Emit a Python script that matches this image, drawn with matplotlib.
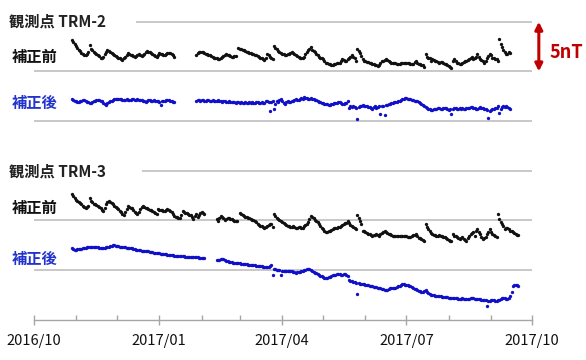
import matplotlib
matplotlib.use("Agg")
import matplotlib.pyplot as plt
import matplotlib.dates as mdates
import numpy as np
import pandas as pd

plt.rcParams['font.family'] = ['Noto Sans CJK JP', 'DejaVu Sans']

# ---------------- data (daily values, nT, with display offsets) ----------------
# Each series: list of segments, each segment starts at the given date.
trm2_before_starts = ["2016-10-29", "2017-01-28"]
trm2_before_seg1 = [
    23.2, 23.0, 22.8, 22.6, 22.4, 22.2, 22.1, 21.9, 21.8, 21.7,
    21.7, 21.8, 22.0, 22.7, 22.3, 22.2, 22.0, 21.9, 21.8, 21.7,
    21.6, 21.4, 21.3, 21.5, 21.8, 22.0, 22.2, 22.1, 22.0, 21.9,
    21.8, 21.7, 21.6, 21.5, 21.4, 21.3, 21.2, 21.1, 21.3, 21.5,
    21.7, 21.9, 21.8, 21.7, 21.7, 21.6, 21.5, 21.6, 21.7, 21.8,
    21.7, 21.6, 21.7, 21.8, 22.0, 22.1, 22.0, 22.0, 21.9, 21.8,
    21.7, 21.6, 21.5, 21.7, 21.9, 21.8, 21.8, 21.7, 21.7, 21.8,
    21.9, 21.9, 21.9, 21.8, 21.7, 21.5]
trm2_before_seg2 = [
    21.7, 21.9, 22.0, 22.0, 22.0, 22.0, 21.9, 21.8, 21.8, 21.7,
    21.7, 21.6, 21.5, 21.4, 21.3, 21.3, 21.2, 21.2, 21.4, 21.5,
    21.6, 21.7, 21.8, 21.7, 21.7, 21.6, 21.5, 21.5, 21.6, 21.6,
    None, 22.4, 22.3, 22.3, 22.2, 22.2, 22.1, 22.0, 22.0, 21.9,
    21.9, 21.8, 21.8, 21.7, 21.7, 21.6, 21.5, 21.4, 21.3, 21.2,
    21.1, 21.3, 21.8, 21.7, 21.5, 21.3, 21.2, 22.6, 22.4, 22.3,
    22.1, 22.0, 21.9, 21.8, 21.8, 21.7, 21.7, 21.8, 21.8, 21.9,
    22.0, 21.9, 21.8, 21.7, 21.6, 21.5, 21.4, 21.3, 21.3, 21.5,
    21.8, 22.0, 22.2, 22.3, 22.5, 22.2, 22.1, 22.0, 21.8, 21.7,
    21.5, 21.4, 21.3, 21.2, 21.0, 20.8, 20.8, 20.7, 20.7, 20.6,
    20.6, 20.7, 20.7, 20.8, 20.8, 20.8, 21.0, 21.2, 21.1, 21.0,
    21.0, 21.2, 21.3, 21.5, 21.7, 21.5, 21.3, 21.0, 22.3, 22.1,
    21.9, 21.6, 21.2, 21.0, 21.0, 20.9, 20.9, 20.8, 20.8, 20.7,
    20.7, 20.6, 20.6, 20.5, 20.6, 20.8, 21.0, 21.0, 21.1, 21.2,
    21.1, 21.0, 20.9, 20.8, 20.8, 20.8, 20.8, 20.7, 20.7, 20.7,
    20.8, 20.8, 20.8, 20.8, 20.8, 20.8, 20.8, 20.7, 20.7, 20.7,
    20.9, 21.0, 20.8, 20.7, 20.7, 20.6, 20.6, 20.4, 21.8, 21.5,
    21.4, 21.3, 21.0, 21.2, 21.1, 21.0, 21.0, 20.9, 20.8, 20.9,
    20.9, 20.8, 20.7, 20.7, 20.6, 20.5, 20.4, 20.3, 21.0, 21.2,
    21.0, 20.8, 20.8, 20.7, 20.7, 20.8, 20.9, 21.0, 21.0, 21.1,
    21.2, 21.3, 21.5, 21.2, 21.3, 21.5, 21.8, 21.5, 21.2, 21.1,
    21.0, 20.8, 21.0, 21.3, 21.6, 21.8, 21.7, 21.3, 21.3, 21.2,
    21.2, 21.0, 23.3, 22.8, 22.5, 22.2, 22.0, 21.8, 21.8, 22.0,
    21.9]

trm2_after_starts = ["2016-10-29", "2017-01-28"]
trm2_after_seg1 = [
    17.2, 17.1, 17.0, 17.0, 16.9, 16.9, 17.0, 17.0, 17.1, 17.1,
    17.0, 16.9, 16.9, 16.8, 16.8, 16.9, 17.0, 17.0, 17.1, 17.1,
    17.1, 17.0, 17.0, 16.8, 16.7, 16.6, 16.8, 16.9, 17.0, 17.0,
    17.1, 17.2, 17.2, 17.2, 17.2, 17.2, 17.2, 17.1, 17.1, 17.1,
    17.2, 17.1, 17.1, 17.1, 17.2, 17.2, 17.1, 17.1, 17.2, 17.1,
    17.1, 17.1, 17.0, 17.0, 16.9, 17.0, 17.1, 17.1, 17.0, 17.0,
    17.1, 17.0, 17.0, 17.0, 16.9, 16.6, 17.0, 17.0, 17.0, 17.1,
    17.1, 17.1, 17.0, 17.0, 16.9, 16.9]
trm2_after_seg2 = [
    17.0, 17.1, 17.1, 17.0, 17.1, 17.1, 17.0, 17.0, 17.1, 17.1,
    17.0, 17.0, 17.1, 17.0, 17.0, 17.0, 17.1, 17.0, 17.0, 16.9,
    17.0, 17.0, 16.9, 16.9, 17.0, 16.9, 16.9, 16.9, 16.9, 16.8,
    16.9, 16.9, 16.8, 16.9, 16.8, 16.8, 16.9, 16.8, 16.8, 16.9,
    16.8, 16.9, 16.8, 16.8, 16.9, 16.9, 16.8, 16.8, 16.9, 16.8,
    16.8, 17.0, 17.0, 16.9, 16.0, 16.9, 17.0, 16.2, 16.7, 17.0,
    16.9, 17.1, 17.2, 17.0, 16.8, 16.7, 16.9, 17.0, 16.9, 16.9,
    17.0, 17.0, 17.1, 17.2, 17.1, 17.1, 17.2, 17.3, 17.2, 17.4,
    17.3, 17.3, 17.2, 17.2, 17.3, 17.2, 17.2, 17.1, 17.1, 17.0,
    16.9, 16.9, 16.8, 16.8, 16.7, 16.7, 16.7, 16.6, 16.6, 16.7,
    16.7, 16.8, 16.8, 16.8, 16.9, 16.9, 16.8, 16.7, 16.7, 16.8,
    16.8, 17.0, 16.3, 16.5, 16.4, 16.5, 16.4, 16.3, 15.2, 16.4,
    16.5, 16.5, 16.6, 16.5, 16.5, 16.5, 16.4, 16.4, 16.3, 16.2,
    16.4, 16.5, 16.3, 16.4, 16.5, 15.7, 16.5, 16.5, 15.6, 16.6,
    16.6, 16.7, 16.7, 16.8, 16.8, 16.9, 16.9, 16.9, 17.0, 17.0,
    17.1, 17.2, 17.2, 17.3, 17.3, 17.2, 17.2, 17.2, 17.1, 17.1,
    17.0, 17.0, 17.0, 16.9, 16.8, 16.7, 16.6, 16.5, 16.4, 16.3,
    16.2, 16.2, 16.1, 16.1, 16.2, 16.2, 16.2, 16.3, 16.3, 16.2,
    16.2, 16.3, 16.3, 16.3, 16.2, 16.1, 16.2, 15.7, 16.2, 16.3,
    16.3, 16.2, 16.2, 16.3, 16.2, 16.3, 16.2, 16.2, 16.3, 16.3,
    16.3, 16.4, 16.4, 16.3, 16.3, 16.2, 16.2, 16.3, 16.4, 16.3,
    16.3, 16.2, 16.2, 16.1, 15.3, 16.0, 16.1, 16.2, 16.2, 16.3,
    16.3, 16.5, 15.8, 16.2, 16.4, 16.5, 16.4, 16.5, 16.4, 16.3,
    16.2]

trm3_before_starts = ["2016-10-29", "2017-02-12"]
trm3_before_seg1 = [
    7.7, 7.5, 7.3, 7.1, 7.0, 6.9, 6.8, 6.6, 6.4, 6.3,
    6.25, 6.3, 6.4, 7.25, 7.0, 6.9, 6.7, 6.6, 6.5, 6.4,
    6.3, 6.2, 6.0, 5.9, 6.25, 6.6, 6.9, 7.0, 6.9, 6.8,
    6.6, 6.4, 6.3, 6.2, 6.1, 5.9, 5.8, 5.6, 5.5, 5.8,
    6.1, 6.4, 6.3, 6.25, 6.2, 6.0, 5.8, 5.7, 5.65, 5.8,
    6.1, 6.3, 6.4, 6.3, 6.2, 6.2, 6.1, 6.0, 6.0, 5.9,
    5.8, 5.7, 5.6, 6.1, 6.05, 6.0, 6.0, 5.95, 5.9, 6.0,
    6.1, 6.0, 5.9, 5.8, 5.6, 5.4, 5.3, 5.3, 5.25, 5.25,
    5.5, 5.9, 5.8, 5.75, 5.7, 5.6, 5.55, 5.5, 5.3, 5.1,
    5.4, 5.6, 5.3, 5.55, 5.7, 5.8, 5.7, 5.6]
trm3_before_seg2 = [
    5.1, 4.95, 5.25, 5.4, 5.3, 5.2, 5.0, 5.1, 5.25, 5.2,
    5.15, 5.1, 5.0, 4.95, 4.9, 4.9, None, 5.75, 5.65, 5.5,
    5.4, 5.35, 5.3, 5.25, 5.2, 5.1, 5.05, 5.0, 4.95, 4.8,
    4.65, 4.55, 4.45, 4.4, 4.3, 4.25, 4.3, 4.4, 4.55, 4.65,
    4.6, 4.3, 5.6, 5.4, 5.25, 5.15, 5.05, 4.95, 4.85, 4.75,
    4.65, 4.55, 4.45, 4.4, 4.3, 4.3, 4.4, 4.3, 4.25, 4.25,
    4.3, 4.3, 4.25, 4.25, 4.4, 4.55, 4.65, 4.85, 5.1, 5.4,
    5.3, 5.2, 5.05, 4.95, 4.8, 4.65, 4.4, 4.2, 4.1, 3.95,
    3.85, 3.85, 3.9, 3.95, 4.05, 4.1, 4.2, 4.25, 4.25, 4.3,
    4.3, 4.4, 4.5, 4.6, 4.7, 4.75, 4.95, 4.7, 4.55, 4.4,
    4.3, 4.25, 4.1, 5.5, 5.2, 4.95, 4.6, 3.95, 3.9, 3.8,
    3.7, 3.65, 3.6, 3.5, 3.45, 3.5, 3.55, 3.6, 3.5, 3.45,
    3.6, 3.75, 3.8, 3.95, 3.85, 3.75, 3.65, 3.6, 3.5, 3.45,
    3.4, 3.4, 3.45, 3.45, 3.45, 3.4, 3.4, 3.4, 3.45, 3.45,
    3.35, 3.3, 3.35, 3.45, 3.5, 3.55, 3.6, 3.4, 3.25, 3.2,
    3.1, 3.0, 2.9, 4.6, 4.3, 4.1, 3.9, 3.75, 3.6, 3.55,
    3.5, 3.45, 3.45, 3.5, 3.45, 3.4, 3.35, 3.3, 3.25, 3.15,
    3.0, 2.95, 2.9, 3.6, 3.45, 3.4, 3.3, 3.2, 3.1, 3.2,
    3.3, 3.1, 3.0, 2.95, 3.2, 3.4, 3.6, 3.7, 3.8, 3.45,
    3.95, 4.1, 3.85, 3.6, 3.3, 3.1, 3.2, 3.3, 3.6, 3.8,
    4.1, 3.85, 3.6, 3.5, 3.4, 3.3, 5.6, 5.1, 4.8, 4.6,
    4.4, 4.1, 4.2, 4.25, 4.1, 3.95, 3.9, 3.8, 3.7, 3.6,
    3.55, 3.5]

trm3_after_starts = ["2016-10-29", "2017-02-12"]
trm3_after_seg1 = [
    2.25, 2.15, 2.05, 2.05, 2.1, 2.1, 2.15, 2.15, 2.2, 2.25,
    2.25, 2.3, 2.3, 2.3, 2.35, 2.35, 2.35, 2.35, 2.3, 2.3,
    2.25, 2.25, 2.2, 2.25, 2.25, 2.3, 2.3, 2.35, 2.4, 2.45,
    2.5, 2.5, 2.45, 2.4, 2.4, 2.35, 2.3, 2.3, 2.3, 2.3,
    2.25, 2.25, 2.2, 2.2, 2.2, 2.15, 2.1, 2.05, 2.05, 2.0,
    2.0, 1.95, 1.95, 1.9, 1.9, 1.9, 1.9, 1.85, 1.85, 1.8,
    1.75, 1.75, 1.7, 1.7, 1.7, 1.65, 1.65, 1.6, 1.65, 1.6,
    1.55, 1.55, 1.5, 1.5, 1.5, 1.45, 1.45, 1.4, 1.4, 1.4,
    1.4, 1.4, 1.4, 1.35, 1.35, 1.35, 1.35, 1.35, 1.3, 1.3,
    1.3, 1.3, 1.3, 1.25, 1.25, 1.25, 1.25, 1.2]
trm3_after_seg2 = [
    1.05, 1.0, 1.05, 1.1, 1.15, 1.1, 1.0, 0.95, 0.9, 0.85,
    0.85, 0.8, 0.75, 0.75, 0.75, 0.7, 0.7, 0.7, 0.65, 0.65,
    0.65, 0.6, 0.6, 0.55, 0.55, 0.55, 0.5, 0.5, 0.5, 0.45,
    0.45, 0.4, 0.4, 0.4, 0.35, 0.35, 0.3, 0.3, 0.35, 0.45,
    0.5, -0.45, 0.15, 0.1, 0.05, 0.0, 0.0, -0.45, -0.05, -0.05,
    -0.1, -0.1, -0.05, -0.05, -0.1, -0.1, -0.15, -0.2, -0.25, -0.2,
    -0.15, -0.15, -0.1, -0.05, 0.0, 0.05, 0.1, 0.15, 0.1, 0.05,
    -0.05, -0.15, -0.25, -0.3, -0.4, -0.45, -0.55, -0.65, -0.7, -0.8,
    -0.85, -0.8, -0.75, -0.7, -0.6, -0.5, -0.45, -0.45, -0.4, -0.4,
    -0.4, -0.45, -0.45, -0.4, -0.4, -0.45, -0.65, -1.0, -1.1, -1.15,
    -1.2, -1.25, -1.3, -2.45, -1.35, -1.4, -1.4, -1.45, -1.45, -1.5,
    -1.5, -1.55, -1.6, -1.6, -1.65, -1.7, -1.7, -1.75, -1.8, -1.85,
    -1.85, -1.9, -1.95, -2.05, -2.05, -2.0, -1.9, -1.85, -1.8, -1.8,
    -1.85, -1.85, -1.75, -1.65, -1.6, -1.5, -1.45, -1.45, -1.5, -1.5,
    -1.55, -1.6, -1.65, -1.75, -1.8, -1.9, -1.95, -2.0, -2.1, -2.15,
    -2.2, -2.25, -2.15, -2.05, -2.2, -2.35, -2.45, -2.5, -2.5, -2.55,
    -2.6, -2.6, -2.6, -2.65, -2.65, -2.7, -2.7, -2.75, -2.75, -2.75,
    -2.8, -2.8, -2.85, -2.85, -2.8, -2.8, -2.85, -2.9, -2.95, -2.9,
    -2.85, -2.9, -2.9, -2.95, -2.95, -2.9, -2.85, -2.8, -2.85, -2.9,
    -2.9, -2.95, -2.95, -2.95, -3.0, -3.0, -3.05, -3.05, -3.6, -3.1,
    -3.1, -3.05, -3.0, -3.05, -3.1, -3.1, -3.05, -3.0, -2.9, -2.85,
    -2.8, -2.85, -2.9, -2.9, -2.85, -2.6, -2.2, -1.6, -1.55, -1.5,
    -1.55, -1.6]

grid_levels = [25, 20, 15, 10, 5, 0]
x_start, x_end = "2016-10-01", "2017-10-01"
panel_titles = ["観測点 TRM-2", "観測点 TRM-3"]
label_before, label_after = "補正前", "補正後"
scale_label = "5nT"

# ---------------- styling ----------------
W, H = 586, 360
BLACK_DOT = "#111111"
BLUE_DOT = "#1010C8"
BLUE_TXT = "#2233CC"
GRID = "#BFBFBF"
AXIS = "#A6A6A6"
RED = "#C00000"

fig = plt.figure(figsize=(W / 100, H / 100), dpi=100)
ax_left, ax_right = 33.7, 532.0
ax_bottom_px = 320.0
ax = fig.add_axes([ax_left / W, (H - ax_bottom_px) / H,
                   (ax_right - ax_left) / W, ax_bottom_px / H])
ax.set_xlim(pd.Timestamp(x_start), pd.Timestamp(x_end))
ax.set_ylim(-5.03, 27.19)


def plot_series(starts, segs, color):
    for st, vals in zip(starts, segs):
        d = pd.date_range(st, periods=len(vals), freq="D")
        v = np.array([np.nan if x is None else x for x in vals], dtype=float)
        ax.plot(d, v, linestyle="none", marker="o", markersize=2.4,
                markeredgewidth=0, color=color, zorder=3)


plot_series(trm2_before_starts, [trm2_before_seg1, trm2_before_seg2], BLACK_DOT)
plot_series(trm2_after_starts, [trm2_after_seg1, trm2_after_seg2], BLUE_DOT)
plot_series(trm3_before_starts, [trm3_before_seg1, trm3_before_seg2], BLACK_DOT)
plot_series(trm3_after_starts, [trm3_after_seg1, trm3_after_seg2], BLUE_DOT)

# grid lines (the top line of each panel begins after the panel title)
line_starts = {25: "2016-12-15", 10: "2016-12-19"}
for lv in grid_levels:
    st = pd.Timestamp(line_starts.get(lv, x_start))
    ax.hlines(lv, st, pd.Timestamp(x_end), color=GRID, linewidth=1.2, zorder=1)

for s in ["top", "right", "left"]:
    ax.spines[s].set_visible(False)
ax.spines["bottom"].set_color(AXIS)
ax.spines["bottom"].set_linewidth(1.0)
ax.set_yticks([])

ax.xaxis.set_major_locator(mdates.MonthLocator(bymonth=[1, 4, 7, 10]))
ax.xaxis.set_minor_locator(mdates.MonthLocator())
ax.xaxis.set_major_formatter(mdates.DateFormatter("%Y/%m"))
ax.tick_params(axis="x", which="major", direction="inout", length=7.7,
               width=1.0, color=AXIS, pad=6, labelsize=10.5,
               labelcolor="#111111")
ax.tick_params(axis="x", which="minor", direction="in", length=3.6,
               width=1.0, color=AXIS)

# scale arrow (5 nT between the first two grid lines)
arrow_x = pd.Timestamp(x_start) + pd.Timedelta(days=370)
ax.annotate("", xy=(arrow_x, grid_levels[0]), xytext=(arrow_x, grid_levels[1]),
            arrowprops=dict(arrowstyle="<|-|>", color=RED, lw=2.2,
                            mutation_scale=11, shrinkA=0, shrinkB=0),
            annotation_clip=False)
fig.text(549 / W, 1 - 52 / H, scale_label, color=RED, fontsize=13,
         fontweight="bold", ha="left", va="center",
         family=["Noto Sans CJK JP", "DejaVu Sans"])


def ftext(x, y, s, **kw):
    fig.text(x / W, 1 - y / H, s, ha="left", va="center", **kw)


ftext(9, 21.7, panel_titles[0], fontsize=11, fontweight="bold", color="#222222")
ftext(12, 57, label_before, fontsize=11, fontweight="bold", color="#111111")
ftext(12, 103, label_after, fontsize=11, fontweight="bold", color=BLUE_TXT)
ftext(9, 171.5, panel_titles[1], fontsize=11, fontweight="bold", color="#222222")
ftext(12, 207.5, label_before, fontsize=11, fontweight="bold", color="#111111")
ftext(12, 259, label_after, fontsize=11, fontweight="bold", color=BLUE_TXT)

fig.savefig("out.png", dpi=100, facecolor="white")
